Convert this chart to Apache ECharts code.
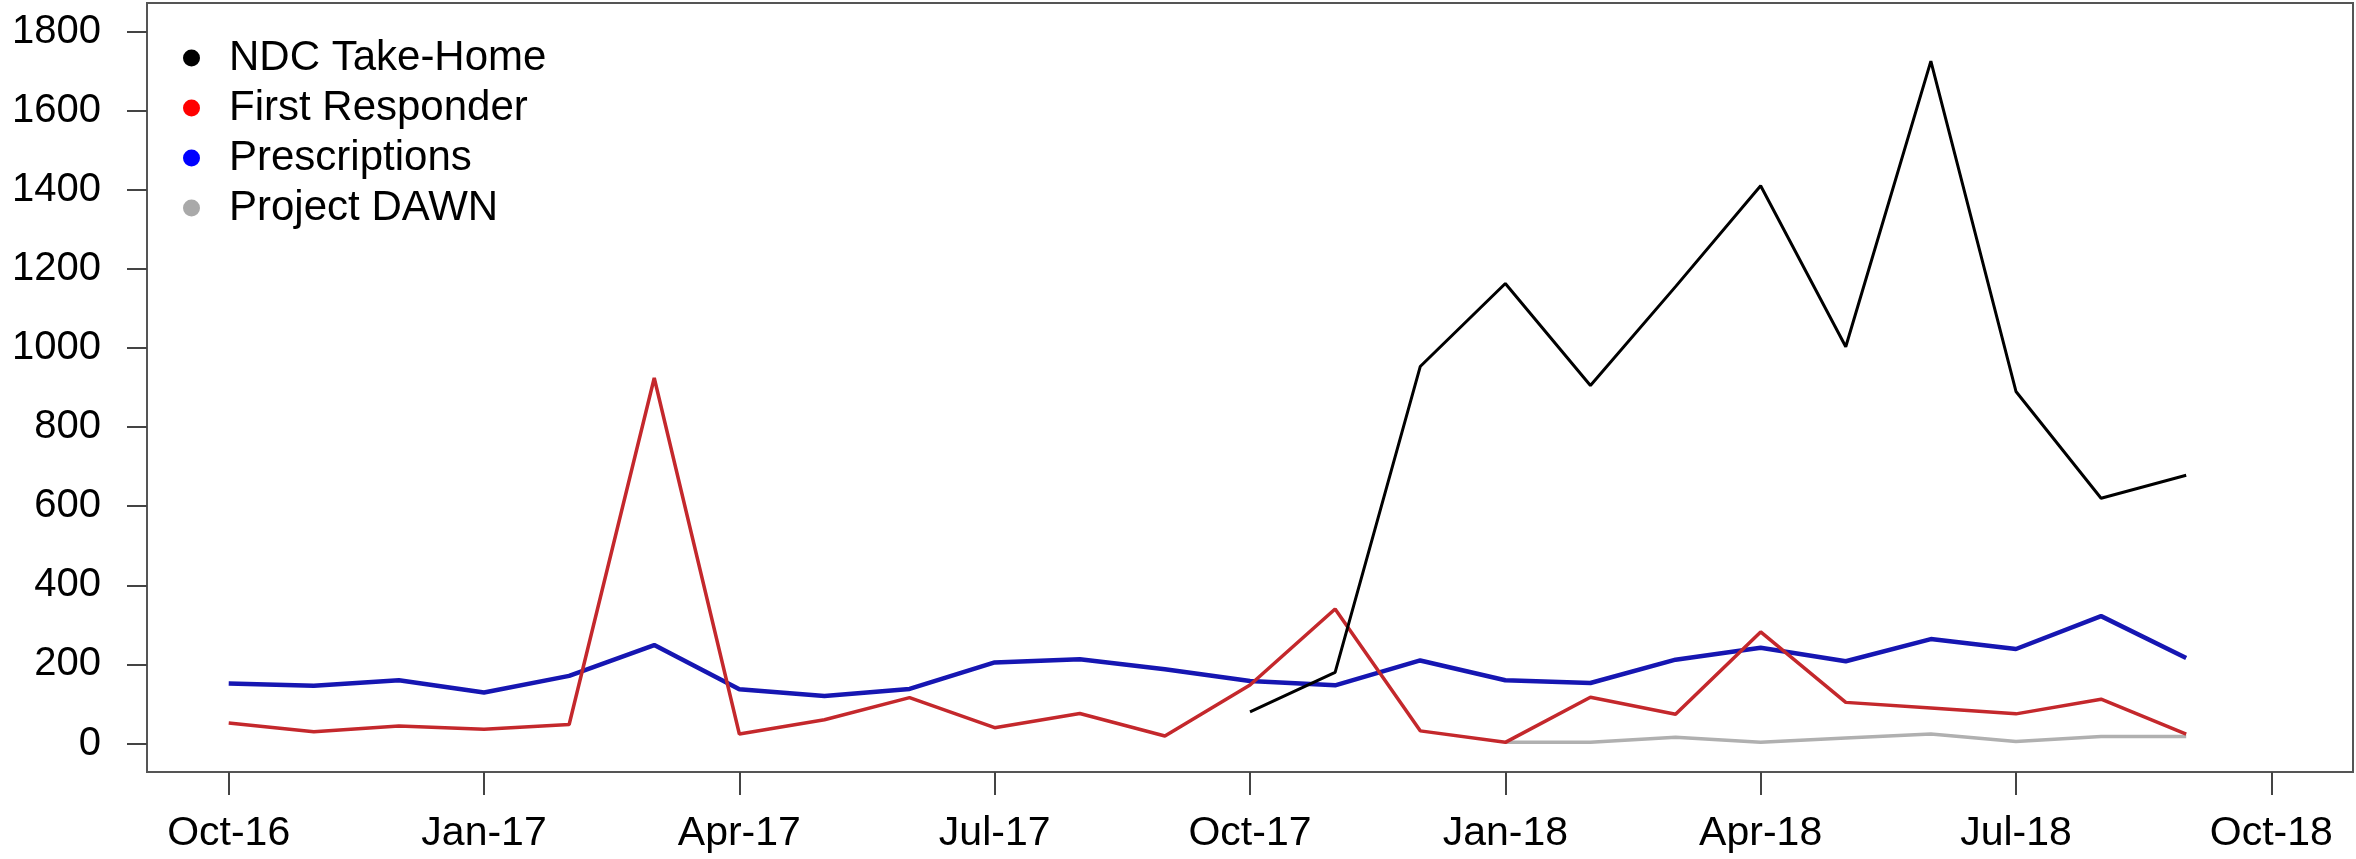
<!DOCTYPE html>
<html>
<head>
<meta charset="utf-8">
<script src="https://cdn.jsdelivr.net/npm/echarts@6/dist/echarts.min.js"></script>
<style>
html,body{margin:0;padding:0;background:#fff;}
#chart{width:2356px;height:859px;}
</style>
</head>
<body>
<div id="chart"></div>
<script>
// Monthly categories (Oct-16 .. Sep-18)
const months = ['Oct-16','Nov-16','Dec-16','Jan-17','Feb-17','Mar-17','Apr-17','May-17','Jun-17','Jul-17','Aug-17','Sep-17',
                'Oct-17','Nov-17','Dec-17','Jan-18','Feb-18','Mar-18','Apr-18','May-18','Jun-18','Jul-18','Aug-18','Sep-18'];
// Series values
const ndcTakeHome = [null,null,null,null,null,null,null,null,null,null,null,null,
                     80,180,953,1163,905,1155,1410,1003,1725,890,620,678];
const firstResponder = [52,30,44,36,48,924,24,60,116,40,76,19,
                        148,340,32,3,117,74,282,104,90,75,112,24];
const prescriptions = [152,146,160,129,171,249,137,120,138,205,213,188,
                       158,147,210,160,153,212,242,208,264,239,322,216];
const projectDawn = [null,null,null,null,null,null,null,null,null,null,null,null,
                     null,null,null,3,3,16,3,14,24,5,18,18];
// Axis tick labels
const xTickLabels = ['Oct-16','Jan-17','Apr-17','Jul-17','Oct-17','Jan-18','Apr-18','Jul-18','Oct-18'];
const xTickMonths = [0,3,6,9,12,15,18,21,24];
const yTicks = [0,200,400,600,800,1000,1200,1400,1600,1800];

const toPairs = arr => months.map((m,i) => [i, arr[i] == null ? null : arr[i]]);

const FONT = "'Liberation Sans', Arial, sans-serif";
const chart = echarts.init(document.getElementById('chart'), null, {renderer:'canvas'});
chart.setOption({
  animation:false,
  backgroundColor:'#ffffff',
  grid:{left:147, right:3, top:3, bottom:87, show:true, borderColor:'#555555', borderWidth:2, backgroundColor:'transparent'},
  legend:{
    orient:'vertical', left:178, top:32, itemGap:8, itemWidth:17, itemHeight:17,
    icon:'circle',
    textStyle:{fontFamily:FONT, fontSize:42, color:'#000', lineHeight:42, padding:[0,0,0,24]},
    data:['NDC Take-Home','First Responder','Prescriptions','Project DAWN']
  },
  xAxis:{
    type:'value', min:-0.96, max:24.96,
    splitLine:{show:false},
    axisLine:{show:false, onZero:false},
    axisTick:{show:true, length:23, inside:false, lineStyle:{color:'#444', width:2}, customValues:xTickMonths},
    axisLabel:{show:true, margin:41, fontFamily:FONT, fontSize:41, color:'#000',
      customValues:xTickMonths,
      formatter: v => xTickLabels[xTickMonths.indexOf(Math.round(v))] || ''}
  },
  yAxis:{
    type:'value', min:-72, max:1872,
    splitLine:{show:false},
    axisLine:{show:false, onZero:false},
    axisTick:{show:true, length:20, inside:false, lineStyle:{color:'#444', width:2}, customValues:yTicks},
    axisLabel:{show:true, margin:46, fontFamily:FONT, fontSize:40, color:'#000', customValues:yTicks,
      formatter: v => String(v)}
  },
  series:[
    {name:'NDC Take-Home', type:'line', data:toPairs(ndcTakeHome), showSymbol:false, connectNulls:false,
     itemStyle:{color:'#000000'}, lineStyle:{color:'#000000', width:3}, z:5},
    {name:'First Responder', type:'line', data:toPairs(firstResponder), showSymbol:false,
     itemStyle:{color:'#ff0000'}, lineStyle:{color:'#c4282c', width:3.5}, z:4},
    {name:'Prescriptions', type:'line', data:toPairs(prescriptions), showSymbol:false,
     itemStyle:{color:'#0000ff'}, lineStyle:{color:'#1616b2', width:4.5}, z:3},
    {name:'Project DAWN', type:'line', data:toPairs(projectDawn), showSymbol:false, connectNulls:false,
     itemStyle:{color:'#a9a9a9'}, lineStyle:{color:'#b0b0b0', width:3.5}, z:2}
  ]
});
</script>
</body>
</html>
